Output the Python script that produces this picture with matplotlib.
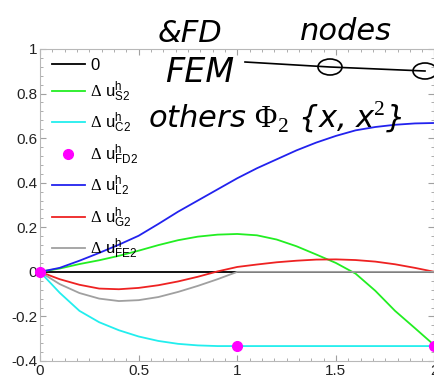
import numpy as np
import matplotlib
matplotlib.use('Agg')
import matplotlib.pyplot as plt
from matplotlib.ticker import MultipleLocator

plt.rcParams['font.family'] = ['Liberation Sans', 'DejaVu Sans']
plt.rcParams['mathtext.fontset'] = 'custom'
plt.rcParams['mathtext.rm'] = 'Liberation Serif'
plt.rcParams['mathtext.sf'] = 'Liberation Sans'
plt.rcParams['mathtext.it'] = 'Liberation Sans'

############# Data #############################################################
x = [0, 0.1, 0.2, 0.3, 0.4, 0.5, 0.6, 0.7, 0.8, 0.9, 1.0,
     1.1, 1.2, 1.3, 1.4, 1.5, 1.6, 1.7, 1.8, 1.9, 2.0]

zero = [0.0] * len(x)
duS2 = [0, 0.015, 0.035, 0.052, 0.072, 0.095, 0.12, 0.142, 0.158, 0.167, 0.17,
        0.164, 0.145, 0.115, 0.078, 0.04, -0.008, -0.085, -0.175, -0.252, -0.33]
duC2 = [0, -0.094, -0.175, -0.226, -0.262, -0.29, -0.31, -0.323, -0.33, -0.333, -0.333,
        -0.333, -0.333, -0.333, -0.333, -0.333, -0.333, -0.333, -0.333, -0.333, -0.333]
xFD2 = [0, 1, 2]
duFD2 = [0, -0.333, -0.333]
duL2 = [0, 0.018, 0.05, 0.085, 0.122, 0.162, 0.215, 0.27, 0.32, 0.37, 0.42,
        0.465, 0.505, 0.545, 0.58, 0.61, 0.635, 0.65, 0.66, 0.666, 0.668]
duG2 = [0, -0.033, -0.058, -0.075, -0.078, -0.072, -0.06, -0.043, -0.022, 0.002, 0.022,
        0.033, 0.043, 0.05, 0.055, 0.056, 0.053, 0.046, 0.034, 0.018, 0]
duFE2 = [0, -0.055, -0.095, -0.12, -0.131, -0.127, -0.113, -0.09, -0.063, -0.033, 0,
         0, 0, 0, 0, 0, 0, 0, 0, 0, 0]

labels = ['0',
          r'$\mathrm{\Delta}$ u$^{\mathsf{h}}_{\mathsf{S2}}$',
          r'$\mathrm{\Delta}$ u$^{\mathsf{h}}_{\mathsf{C2}}$',
          r'$\mathrm{\Delta}$ u$^{\mathsf{h}}_{\mathsf{FD2}}$',
          r'$\mathrm{\Delta}$ u$^{\mathsf{h}}_{\mathsf{L2}}$',
          r'$\mathrm{\Delta}$ u$^{\mathsf{h}}_{\mathsf{G2}}$',
          r'$\mathrm{\Delta}$ u$^{\mathsf{h}}_{\mathsf{FE2}}$']

xticks = [0, 0.5, 1, 1.5, 2]
yticks = [-0.4, -0.2, 0, 0.2, 0.4, 0.6, 0.8, 1]

############# Plot ##############################################################
fig = plt.figure(figsize=(4.35, 3.76), dpi=100)
ax = fig.add_axes([40/435, 1-361/376, 394.5/435, 312/376])

lw = 1.3
ax.plot(x, zero, color='black', lw=lw, label=labels[0])
ax.plot(x, duS2, color='#22ee22', lw=lw, label=labels[1])
ax.plot(x, duC2, color='#22eeee', lw=lw, label=labels[2])
ax.plot(xFD2, duFD2, 'o', color='#ff00ff', ms=7, label=labels[3], zorder=5,
        clip_on=False)
ax.plot(x, duL2, color='#2222ee', lw=lw, label=labels[4])
ax.plot(x, duG2, color='#ee2222', lw=lw, label=labels[5])
ax.plot(x, duFE2, color='#a0a0a0', lw=lw, label=labels[6])

ax.set_xlim(0, 2)
ax.set_ylim(-0.4, 1)
ax.set_xticks(xticks)
ax.set_xticklabels(['0', '0.5', '1', '1.5', '2'])
ax.set_yticks(yticks)
ax.set_yticklabels(['-0.4', '-0.2', '0', '0.2', '0.4', '0.6', '0.8', '1'])
ax.xaxis.set_minor_locator(MultipleLocator(0.0625))
ax.yaxis.set_minor_locator(MultipleLocator(0.04))
ax.tick_params(which='both', direction='in', top=True, right=True,
               color='#a0a0a0', labelsize=11, labelcolor='#222222')
ax.tick_params(which='major', length=4, pad=2)
ax.tick_params(which='minor', length=2)
for s in ax.spines.values():
    s.set_color('#b8b8b8')
    s.set_linewidth(0.8)

leg = ax.legend(loc='upper left', bbox_to_anchor=(0.0, 1.01), frameon=False,
                fontsize=12, handlelength=2.0, handletextpad=0.3,
                labelspacing=0.42, borderaxespad=0.3, numpoints=1)

############# Handwritten notes ################################################
hw = dict(color='black', fontsize=22, fontstyle='italic', family='DejaVu Sans',
          fontweight='light')
fig.text(158/435, 1-42/376, '&FD', **hw)
fig.text(300/435, 1-40/376, 'nodes', **hw)
fig.text(165/435, 1-82/376, 'FEM', fontsize=24, color='black',
         fontstyle='italic', family='DejaVu Sans')
fig.text(148/435, 1-128/376, r'others $\Phi_{2}$ {x, x$^2$}', **hw)
fig.add_artist(plt.Line2D([245/435, 330/435, 425/435],
                          [1-62/376, 1-67/376, 1-71/376],
                          transform=fig.transFigure, color='black', lw=1.2))
for cx, cy in [(330, 67), (425, 71)]:
    fig.add_artist(matplotlib.patches.Ellipse((cx/435, 1-cy/376), 24/435, 16/376,
                                              transform=fig.transFigure,
                                              fill=False, ec='black', lw=1.2))

plt.savefig('out.png', dpi=100)
